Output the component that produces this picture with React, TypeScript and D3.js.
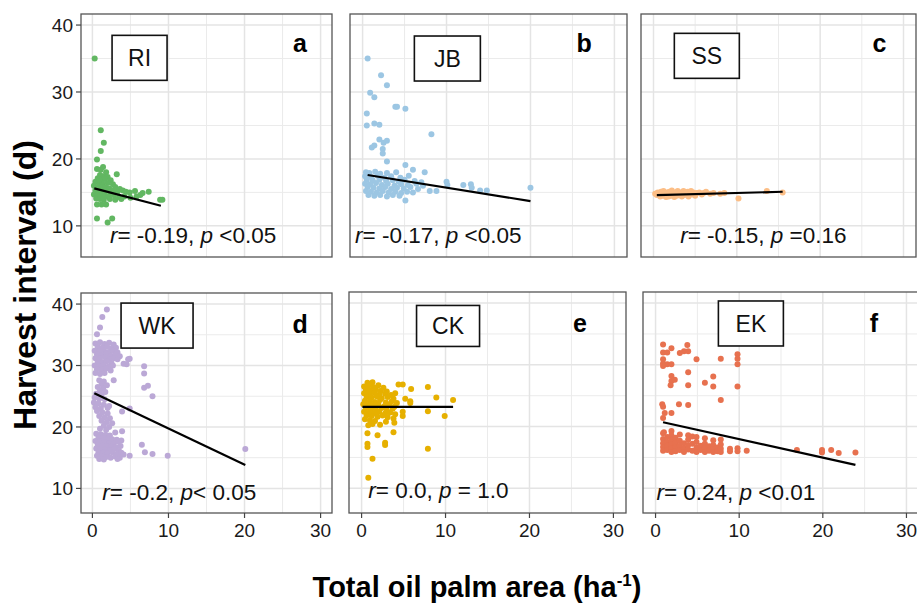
import * as d3 from "d3";

type Pt = [number, number];

// axis breaks
const xTicks = [0, 10, 20, 30];
const xMinor = [5, 15, 25];
const yTicks = [10, 20, 30, 40];
const yMinor = [15, 25, 35];

// RI
const riPoints: Pt[] = [
  [0.3, 35.0], [1.1, 24.3], [1.5, 22.4], [1.1, 21.2], [0.6, 19.9], [1.4, 18.8], [0.6, 18.5], [1.1, 18.4], [1.8, 18.0], [3.2, 17.7],
  [1.0, 17.6], [1.4, 17.4], [2.0, 17.3], [0.7, 17.1], [1.6, 17.0], [2.4, 16.8], [0.4, 16.6], [1.0, 16.5], [1.3, 16.3], [2.0, 16.4],
  [2.7, 16.2], [0.2, 16.0], [0.8, 15.9], [1.2, 15.8], [1.7, 15.7], [2.2, 15.6], [3.0, 15.8], [3.6, 15.5], [0.4, 15.3], [0.9, 15.2],
  [1.3, 15.1], [1.8, 15.2], [2.4, 15.0], [3.3, 15.1], [4.0, 15.3], [4.4, 15.1], [4.9, 15.0], [5.6, 15.2], [6.6, 14.9], [7.4, 15.1],
  [0.2, 14.7], [0.7, 14.6], [1.1, 14.5], [1.6, 14.6], [2.1, 14.4], [2.8, 14.6], [3.5, 14.3], [4.2, 14.4], [5.0, 14.2], [5.8, 14.4],
  [6.3, 14.6], [0.5, 14.1], [1.0, 14.0], [1.5, 13.9], [2.3, 14.0], [3.0, 13.9], [3.8, 14.0], [8.9, 13.9], [9.2, 13.9], [0.6, 13.2],
  [1.2, 13.2], [1.8, 13.2], [0.6, 11.1], [2.0, 10.5], [2.6, 11.1], [0.9, 16.9], [2.6, 15.3], [1.5, 14.2],
];
const riFit: Pt[] = [[0.25, 15.6], [9.0, 13.0]];

// JB
const jbPoints: Pt[] = [
  [0.6, 35.0], [2.2, 32.5], [2.9, 31.0], [0.9, 29.9], [1.4, 29.2], [3.9, 27.8], [4.1, 27.8], [5.1, 27.5], [0.5, 26.8], [0.5, 25.0],
  [1.4, 25.3], [2.0, 25.1], [8.2, 23.7], [2.0, 22.9], [2.5, 22.4], [2.9, 22.7], [1.1, 21.7], [1.4, 22.0], [2.4, 21.5], [2.4, 20.8],
  [2.9, 19.6], [5.1, 19.1], [6.0, 18.4], [7.4, 18.0],
  [0.4, 18.0], [0.8, 17.9], [1.5, 18.1], [2.1, 17.8], [2.9, 17.9], [4.0, 18.0], [0.3, 17.4], [1.0, 17.3], [1.8, 17.5], [2.6, 17.2],
  [3.4, 17.4], [4.5, 17.2], [5.5, 17.5], [0.5, 16.9], [1.2, 16.8], [2.0, 16.9], [2.8, 16.7], [3.6, 16.8], [4.3, 16.6], [5.0, 16.9],
  [6.2, 16.7], [7.0, 16.5], [0.3, 16.3], [0.9, 16.2], [1.6, 16.4], [2.3, 16.1], [3.0, 16.3], [3.8, 16.0], [4.6, 16.2], [5.4, 16.1],
  [6.4, 16.3], [7.2, 16.0], [0.6, 15.8], [1.3, 15.7], [2.0, 15.6], [2.7, 15.8], [3.4, 15.5], [4.1, 15.7], [4.9, 15.6], [5.7, 15.8],
  [6.6, 15.5], [0.4, 15.2], [1.0, 15.1], [1.7, 15.0], [2.4, 15.2], [3.1, 15.0], [3.9, 15.1], [4.6, 14.9], [5.3, 15.1], [6.0, 15.0],
  [0.7, 14.6], [1.4, 14.5], [2.1, 14.6], [2.9, 14.4], [3.6, 14.6], [4.4, 14.5], [5.1, 13.8],
  [8.0, 15.2], [8.8, 15.2], [10.0, 16.6], [10.1, 16.1], [12.0, 16.1], [12.9, 16.2], [13.0, 15.7], [14.0, 15.3], [14.8, 15.3], [20.0, 15.7],
];
const jbFit: Pt[] = [[0.6, 17.6], [20.0, 13.7]];

// SS
const ssPoints: Pt[] = [
  [0.2, 14.8], [0.4, 14.6], [0.5, 15.0], [0.7, 14.7], [0.8, 14.4], [0.9, 15.1], [1.0, 14.8], [1.1, 14.5], [1.2, 15.2], [1.3, 14.9],
  [1.4, 14.6], [1.5, 14.3], [1.6, 15.0], [1.7, 14.7], [1.8, 14.4], [1.9, 15.1], [2.0, 14.8], [2.1, 14.5], [2.2, 15.3], [2.3, 14.9],
  [2.4, 14.6], [2.5, 14.3], [2.6, 15.0], [2.7, 14.7], [2.8, 14.5], [2.9, 15.2], [3.0, 14.8], [3.2, 14.6], [3.3, 15.0], [3.4, 14.4],
  [3.5, 14.8], [3.6, 15.2], [3.7, 14.6], [3.8, 14.9], [4.0, 14.7], [4.1, 15.1], [4.2, 14.4], [4.3, 14.9], [4.5, 15.2], [4.6, 14.7],
  [4.8, 15.0], [5.0, 14.5], [5.2, 14.9], [5.5, 15.0], [5.8, 14.7], [6.0, 14.9], [6.3, 15.1], [6.8, 14.8], [7.2, 14.9], [8.0, 14.8],
  [8.5, 14.9], [10.2, 14.1], [13.6, 15.2], [15.5, 15.0],
];
const ssFit: Pt[] = [[0.4, 14.6], [15.5, 15.1]];

// WK
const wkPoints: Pt[] = [
  [1.9, 39.1], [1.3, 37.9], [1.0, 36.2], [0.6, 35.1],
  [0.4, 33.6], [1.0, 33.8], [1.6, 33.5], [2.2, 33.7], [2.8, 33.4], [0.7, 33.0], [1.3, 32.9], [1.9, 33.1], [2.5, 32.8], [3.1, 32.9],
  [0.3, 32.4], [0.9, 32.3], [1.5, 32.5], [2.1, 32.2], [2.7, 32.4], [3.3, 32.1], [0.6, 31.8], [1.2, 31.7], [1.8, 31.9], [2.4, 31.6],
  [3.0, 31.8], [3.6, 31.5], [0.4, 31.2], [1.0, 31.1], [1.7, 31.3], [2.3, 31.0], [2.9, 31.2], [3.3, 31.0], [4.7, 31.0], [4.9, 31.1],
  [0.7, 30.6], [1.3, 30.5], [1.9, 30.7], [2.5, 30.4], [4.1, 30.3], [4.5, 30.2], [0.3, 30.0], [0.9, 29.9], [1.5, 30.1], [2.1, 29.8],
  [2.7, 30.0], [6.8, 29.9], [0.6, 29.4], [1.2, 29.3], [1.8, 29.5], [2.4, 29.2], [6.8, 28.7], [0.4, 28.8], [1.0, 28.6], [1.6, 28.8],
  [2.8, 27.6], [0.9, 27.6], [1.5, 27.4], [1.2, 27.0], [1.9, 26.8], [0.7, 26.5], [1.4, 26.3], [6.8, 26.4], [7.3, 26.7], [1.0, 25.9],
  [1.7, 25.7], [0.5, 25.4], [1.2, 25.2], [7.9, 25.0], [0.3, 24.8], [0.9, 24.6], [1.6, 24.5], [0.2, 24.0], [0.8, 23.8], [1.5, 23.6],
  [2.2, 23.4], [0.4, 23.2], [1.1, 23.0], [3.9, 22.5], [4.9, 23.0], [2.0, 23.1], [0.6, 22.6], [1.3, 22.4], [2.0, 22.2], [0.9, 21.8],
  [1.6, 21.6], [2.3, 21.4], [1.2, 21.0], [1.9, 20.8], [2.6, 20.6], [1.5, 20.2], [2.2, 20.0], [1.0, 19.7], [1.8, 19.5], [3.0, 19.1],
  [3.9, 19.3], [0.5, 18.9], [1.1, 18.8], [1.7, 18.7], [2.3, 18.6], [0.8, 18.3], [1.4, 18.2], [2.0, 18.1], [2.6, 18.0], [3.2, 17.9],
  [3.8, 17.8], [0.4, 17.7], [1.0, 17.6], [1.6, 17.5], [2.2, 17.4], [2.8, 17.3], [3.4, 17.6], [0.7, 17.1], [1.3, 17.0], [1.9, 16.9],
  [2.5, 16.8], [3.1, 16.7], [3.7, 16.9], [6.5, 17.1], [0.5, 16.5], [1.1, 16.4], [1.7, 16.3], [2.3, 16.2], [2.9, 16.4], [3.5, 16.1],
  [0.8, 15.9], [1.4, 15.8], [2.0, 15.7], [2.6, 15.9], [3.2, 15.6], [3.8, 15.8], [4.1, 15.5], [4.9, 15.3], [6.9, 15.9], [7.9, 15.6],
  [9.9, 15.3], [0.6, 15.3], [1.2, 15.2], [1.8, 15.1], [2.4, 15.0], [3.0, 15.2], [3.6, 15.0], [0.9, 14.8], [1.5, 14.7], [3.3, 14.8],
  [20.1, 16.4],
];
const wkFit: Pt[] = [[0.25, 25.5], [20.1, 13.8]];

// CK
const ckPoints: Pt[] = [
  [0.7, 27.1], [1.3, 27.2], [2.0, 26.7], [4.4, 26.8], [4.9, 26.8], [5.9, 26.1], [7.9, 26.4], [8.9, 24.7], [10.9, 24.3], [5.8, 24.1],
  [5.8, 23.8], [7.9, 22.5], [9.9, 21.7], [4.9, 21.7], [4.9, 22.4], [3.8, 19.1], [0.7, 18.9], [1.9, 18.6], [2.8, 17.4], [2.8, 17.0],
  [0.7, 17.2], [0.7, 16.7], [7.9, 16.4], [1.3, 14.8], [0.8, 11.7],
  [0.3, 26.5], [0.8, 26.6], [1.4, 26.4], [2.6, 26.3], [0.5, 26.0], [1.0, 25.9], [1.7, 26.0], [2.3, 25.8], [3.0, 25.7], [0.3, 25.4],
  [0.9, 25.3], [1.5, 25.5], [2.1, 25.2], [2.8, 25.3], [3.5, 25.1], [4.0, 25.4], [0.6, 24.8], [1.2, 24.7], [1.8, 24.9], [2.4, 24.6],
  [3.1, 24.8], [3.8, 24.5], [5.2, 24.5], [0.4, 24.2], [1.0, 24.1], [1.6, 24.0], [2.2, 24.3], [2.9, 23.9], [3.6, 24.1], [4.2, 23.8],
  [0.2, 23.6], [0.8, 23.5], [1.4, 23.4], [2.0, 23.6], [2.7, 23.3], [3.3, 23.5], [3.9, 23.2], [0.5, 23.0], [1.1, 22.9], [1.7, 22.8],
  [2.4, 23.0], [3.0, 22.7], [3.7, 22.9], [0.3, 22.4], [0.9, 22.3], [1.5, 22.2], [2.1, 22.4], [2.8, 22.1], [3.4, 22.3], [4.0, 22.0],
  [0.6, 21.8], [1.2, 21.7], [1.9, 21.6], [2.5, 21.8], [3.1, 21.5], [3.8, 21.3], [0.4, 21.2], [1.0, 21.0], [1.6, 20.9], [2.9, 20.8],
  [1.3, 20.4], [2.2, 20.3], [3.9, 20.6], [0.8, 20.2],
];
const ckFit: Pt[] = [[0.1, 23.2], [10.9, 23.2]];

// EK
const ekPoints: Pt[] = [
  [0.9, 33.3], [1.9, 32.7], [0.9, 32.0], [1.4, 32.0], [2.9, 31.9], [3.4, 32.2], [3.9, 32.2], [3.8, 33.2], [4.9, 30.9], [0.9, 30.9],
  [0.9, 30.2], [1.4, 30.1], [1.9, 30.1], [7.8, 31.0], [9.8, 31.7], [9.8, 31.0], [9.8, 30.1], [0.9, 29.8], [3.9, 28.8], [1.9, 28.2],
  [1.9, 27.4], [2.3, 27.6], [1.8, 26.7], [6.9, 28.1], [6.9, 26.5], [5.9, 27.1], [3.9, 26.7], [9.8, 26.5], [7.8, 24.3], [2.8, 23.6],
  [3.9, 23.5], [0.8, 23.6], [0.9, 23.2], [1.1, 22.2], [1.9, 22.2], [0.9, 21.4], [1.0, 19.1],
  [0.9, 18.9], [0.9, 18.0], [0.9, 17.3], [0.9, 16.7], [0.9, 16.1], [1.4, 18.3], [1.4, 17.5], [1.4, 16.9], [1.4, 16.2], [1.9, 19.3],
  [1.9, 18.6], [1.9, 17.8], [1.9, 17.1], [1.9, 16.4], [1.9, 15.9], [2.4, 18.2], [2.4, 17.4], [2.4, 16.7], [2.4, 16.0], [2.9, 18.7],
  [2.9, 17.7], [2.9, 16.9], [2.9, 16.2], [3.4, 17.3], [3.4, 16.5], [3.4, 15.9], [3.9, 18.6], [3.9, 17.9], [3.9, 17.0], [3.9, 16.3],
  [4.4, 18.4], [4.4, 17.2], [4.4, 16.1], [4.9, 18.3], [4.9, 17.5], [4.9, 16.6], [4.9, 15.9], [5.4, 16.9], [5.4, 16.2], [5.9, 18.1],
  [5.9, 17.2], [5.9, 16.5], [5.9, 15.9], [6.4, 16.8], [6.4, 16.1], [6.9, 17.8], [6.9, 17.0], [6.9, 16.3], [6.9, 15.9], [7.4, 16.6],
  [7.4, 16.0], [7.8, 17.9], [7.8, 17.1], [7.8, 16.4], [7.8, 15.9], [8.9, 16.4], [8.9, 16.0], [9.8, 16.5], [9.8, 16.0], [10.9, 16.1],
  [16.9, 16.2], [19.9, 16.2], [19.9, 15.8], [21.0, 16.2], [21.9, 15.7], [23.9, 15.8],
];
const ekFit: Pt[] = [[0.9, 20.7], [23.9, 13.8]];

// correlation labels: r part and p part
const rLabels = ["= -0.19, ", "= -0.17, ", "= -0.15, ", "= -0.2, ", "= 0.0, ", "= 0.24, "];
const pLabels = [" <0.05", " <0.05", " =0.16", "< 0.05", " = 1.0", " <0.01"];

const FONT = "'Liberation Sans', Arial, Helvetica, sans-serif";
const X_DOMAIN: [number, number] = [-1.5, 31.5];

interface PanelSpec {
  letter: string;
  site: string;
  points: Pt[];
  fit: Pt[];
  color: string;
  left: number;
  right: number;
  top: number;
  bottom: number;
  yDomain: [number, number];
  showY: boolean;
  showX: boolean;
  boxAt: Pt;
  boxW: number;
  boxH: number;
  letterAt: Pt;
  statAt: Pt;
}

const TOP_Y: [number, number] = [5.35, 41.65];
const BOT_Y: [number, number] = [6.0, 41.8];

const panels: PanelSpec[] = [
  { letter: "a", site: "RI", points: riPoints, fit: riFit, color: "#62b762", left: 81, right: 332, top: 14, bottom: 257, yDomain: TOP_Y, showY: true, showX: false, boxAt: [6.2, 35.1], boxW: 55, boxH: 45, letterAt: [27.3, 36.0], statAt: [2.3, 7.4] },
  { letter: "b", site: "JB", points: jbPoints, fit: jbFit, color: "#9cc6e3", left: 350, right: 627, top: 14, bottom: 257, yDomain: TOP_Y, showY: false, showX: false, boxAt: [10.1, 35.0], boxW: 66, boxH: 45, letterAt: [26.4, 36.0], statAt: [-0.9, 7.4] },
  { letter: "c", site: "SS", points: ssPoints, fit: ssFit, color: "#fcbe86", left: 641, right: 916, top: 14, bottom: 257, yDomain: TOP_Y, showY: false, showX: false, boxAt: [6.4, 35.4], boxW: 65, boxH: 45, letterAt: [27.1, 36.0], statAt: [3.2, 7.4] },
  { letter: "d", site: "WK", points: wkPoints, fit: wkFit, color: "#bba8d6", left: 81, right: 332, top: 293, bottom: 513, yDomain: BOT_Y, showY: true, showX: true, boxAt: [8.5, 36.5], boxW: 72, boxH: 45, letterAt: [27.3, 35.3], statAt: [1.3, 8.1] },
  { letter: "e", site: "CK", points: ckPoints, fit: ckFit, color: "#e6b000", left: 349, right: 626, top: 292, bottom: 513, yDomain: BOT_Y, showY: false, showX: true, boxAt: [10.3, 36.3], boxW: 63, boxH: 41, letterAt: [26.0, 35.3], statAt: [0.8, 8.4] },
  { letter: "f", site: "EK", points: ekPoints, fit: ekFit, color: "#e7714f", left: 643, right: 919, top: 292, bottom: 513, yDomain: BOT_Y, showY: false, showX: true, boxAt: [11.4, 36.7], boxW: 65, boxH: 45, letterAt: [26.1, 35.3], statAt: [0.1, 8.1] },
];

function Panel({ p, i }: { p: PanelSpec; i: number }) {
  const x = d3.scaleLinear().domain(X_DOMAIN).range([p.left, p.right]);
  const y = d3.scaleLinear().domain(p.yDomain).range([p.bottom, p.top]);
  const line = d3
    .line<Pt>()
    .x((d) => x(d[0]))
    .y((d) => y(d[1]));

  return (
    <g>
      <rect x={p.left} y={p.top} width={p.right - p.left} height={p.bottom - p.top} fill="#fff" />
      {/* minor grid */}
      {xMinor.map((t) => (
        <line key={"xm" + t} x1={x(t)} x2={x(t)} y1={p.top} y2={p.bottom} stroke="#ebebeb" strokeWidth={1} />
      ))}
      {yMinor.map((t) => (
        <line key={"ym" + t} x1={p.left} x2={p.right} y1={y(t)} y2={y(t)} stroke="#ebebeb" strokeWidth={1} />
      ))}
      {/* major grid */}
      {xTicks.map((t) => (
        <line key={"xg" + t} x1={x(t)} x2={x(t)} y1={p.top} y2={p.bottom} stroke="#e4e4e4" strokeWidth={1.5} />
      ))}
      {yTicks.map((t) => (
        <line key={"yg" + t} x1={p.left} x2={p.right} y1={y(t)} y2={y(t)} stroke="#e4e4e4" strokeWidth={1.5} />
      ))}

      {p.points.map((d, k) => (
        <circle key={k} cx={x(d[0])} cy={y(d[1])} r={3} fill={p.color} />
      ))}
      <path d={line(p.fit) || ""} fill="none" stroke="#000" strokeWidth={2.2} />

      <rect
        x={x(p.boxAt[0]) - p.boxW / 2}
        y={y(p.boxAt[1]) - p.boxH / 2}
        width={p.boxW}
        height={p.boxH}
        fill="#fff"
        stroke="#111"
        strokeWidth={1.6}
      />
      <text x={x(p.boxAt[0])} y={y(p.boxAt[1])} dy="0.36em" textAnchor="middle" fontSize={23} fill="#111">
        {p.site}
      </text>
      <text x={x(p.letterAt[0])} y={y(p.letterAt[1])} textAnchor="middle" fontSize={25} fontWeight="bold" fill="#000">
        {p.letter}
      </text>
      <text x={x(p.statAt[0])} y={y(p.statAt[1])} fontSize={22.5} fill="#111" style={{ whiteSpace: "pre" }}>
        <tspan fontStyle="italic">r</tspan>
        {rLabels[i]}
        <tspan fontStyle="italic">p</tspan>
        {pLabels[i]}
      </text>

      <rect x={p.left} y={p.top} width={p.right - p.left} height={p.bottom - p.top} fill="none" stroke="#555" strokeWidth={1.3} />

      {p.showY &&
        yTicks.map((t) => (
          <g key={"yt" + t}>
            <line x1={p.left - 5} x2={p.left} y1={y(t)} y2={y(t)} stroke="#444" strokeWidth={1.2} />
            <text x={p.left - 8} y={y(t)} dy="0.36em" textAnchor="end" fontSize={19} fill="#1a1a1a">
              {t}
            </text>
          </g>
        ))}
      {p.showX &&
        xTicks.map((t) => (
          <g key={"xt" + t}>
            <line x1={x(t)} x2={x(t)} y1={p.bottom} y2={p.bottom + 5} stroke="#444" strokeWidth={1.2} />
            <text x={x(t)} y={p.bottom + 24} textAnchor="middle" fontSize={19} fill="#1a1a1a">
              {t}
            </text>
          </g>
        ))}
    </g>
  );
}

export default function App() {
  return (
    <svg
      width={917}
      height={605}
      style={{ position: "absolute", left: 0, top: 0, background: "#fff" }}
      fontFamily={FONT}
    >
      <rect x={0} y={0} width={917} height={605} fill="#fff" />
      {panels.map((p, i) => (
        <Panel key={p.letter} p={p} i={i} />
      ))}
      <text
        transform="translate(36,285) rotate(-90)"
        textAnchor="middle"
        fontSize={32}
        fontWeight="bold"
        fill="#000"
      >
        Harvest interval (d)
      </text>
      <text x={477} y={597} textAnchor="middle" fontSize={29} fontWeight="bold" fill="#000">
        Total oil palm area (ha
        <tspan fontSize={17} dy={-11}>-1</tspan>
        <tspan dy={11}>)</tspan>
      </text>
    </svg>
  );
}
